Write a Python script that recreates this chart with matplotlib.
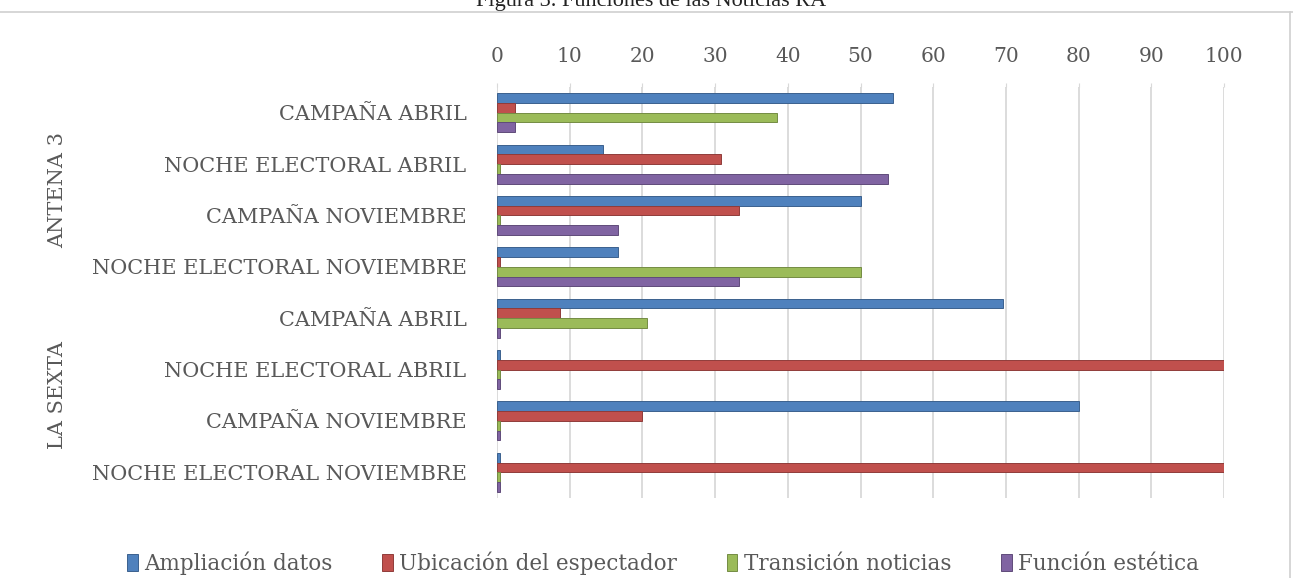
import numpy as np
import matplotlib
matplotlib.use("Agg")
import matplotlib.pyplot as plt
from matplotlib.lines import Line2D

plt.rcParams['font.family'] = ['DejaVu Serif']

# categories top to bottom
categories = ["CAMPAÑA ABRIL", "NOCHE ELECTORAL ABRIL", "CAMPAÑA NOVIEMBRE",
              "NOCHE ELECTORAL NOVIEMBRE",
              "CAMPAÑA ABRIL", "NOCHE ELECTORAL ABRIL", "CAMPAÑA NOVIEMBRE",
              "NOCHE ELECTORAL NOVIEMBRE"]
groups = ["ANTENA 3", "LA SEXTA"]

ampliacion = [54.5, 14.6, 50.0, 16.7, 69.6, 0, 80.0, 0]
ubicacion = [2.5, 30.8, 33.3, 0, 8.7, 100.0, 20.0, 100.0]
transicion = [38.5, 0, 0, 50.0, 20.6, 0, 0, 0]
estetica = [2.5, 53.8, 16.7, 33.3, 0, 0, 0, 0]

series = [("Ampliación datos", ampliacion, "#4F81BD"),
          ("Ubicación del espectador", ubicacion, "#C0504D"),
          ("Transición noticias", transicion, "#9BBB59"),
          ("Función estética", estetica, "#8064A2")]

TXT = "#595959"

fig = plt.figure(figsize=(12.93, 5.78), dpi=100)
ax = fig.add_axes([497 / 1293, 1 - 498 / 578, 727 / 1293, 411 / 578])

y = np.arange(len(categories))
h = 0.19
for k, (name, vals, col) in enumerate(series):
    vals = np.array(vals, dtype=float)
    # Excel draws a small stub for zero values
    shown = np.where(vals == 0, 0.35, vals)
    edge = tuple(c * 0.75 for c in matplotlib.colors.to_rgb(col))
    ax.barh(y + (k - 1.5) * h, shown, height=h, color=col,
            edgecolor=edge, linewidth=0.7, label=name, zorder=3)

ax.set_xlim(0, 100)
ax.set_ylim(len(categories) - 0.5, -0.5)
ax.set_xticks(np.arange(0, 101, 10))
ax.xaxis.tick_top()
ax.tick_params(axis='x', length=3, color="#D9D9D9", pad=12,
               labelsize=14.5, labelcolor=TXT)
ax.set_yticks(y)
ax.set_yticklabels(categories)
ax.tick_params(axis='y', length=0, pad=22, labelsize=15, labelcolor=TXT)
ax.grid(axis='x', color="#D9D9D9", linewidth=1.3, zorder=0)
for s in ax.spines.values():
    s.set_visible(False)

# group labels on the left
for g, name in enumerate(groups):
    ax.text(-0.605, 1.5 + 4 * g, name, transform=ax.get_yaxis_transform(),
            rotation=90, ha='center', va='center', fontsize=15, color=TXT)

fig.legend(loc='center', bbox_to_anchor=(663 / 1293, 1 - 563 / 578), ncol=4,
           frameon=False, fontsize=15.5, labelcolor=TXT, handlelength=0.5,
           handleheight=0.8, handletextpad=0.3, columnspacing=2.3)

# title partially cut at the top, with chart border
fig.text(651 / 1293, 1 - 6 / 578, "Figura 3. Funciones de las Noticias RA",
         ha='center', va='baseline', fontsize=16, color="#222222",
         family='Liberation Serif')
fig.add_artist(Line2D([0, 1], [1 - 11.5 / 578] * 2, color="#D0D0D0", lw=1.2))
fig.add_artist(Line2D([1289.5 / 1293] * 2, [0, 1 - 11.5 / 578], color="#D0D0D0", lw=1.2))

fig.savefig("out.png", dpi=100)
